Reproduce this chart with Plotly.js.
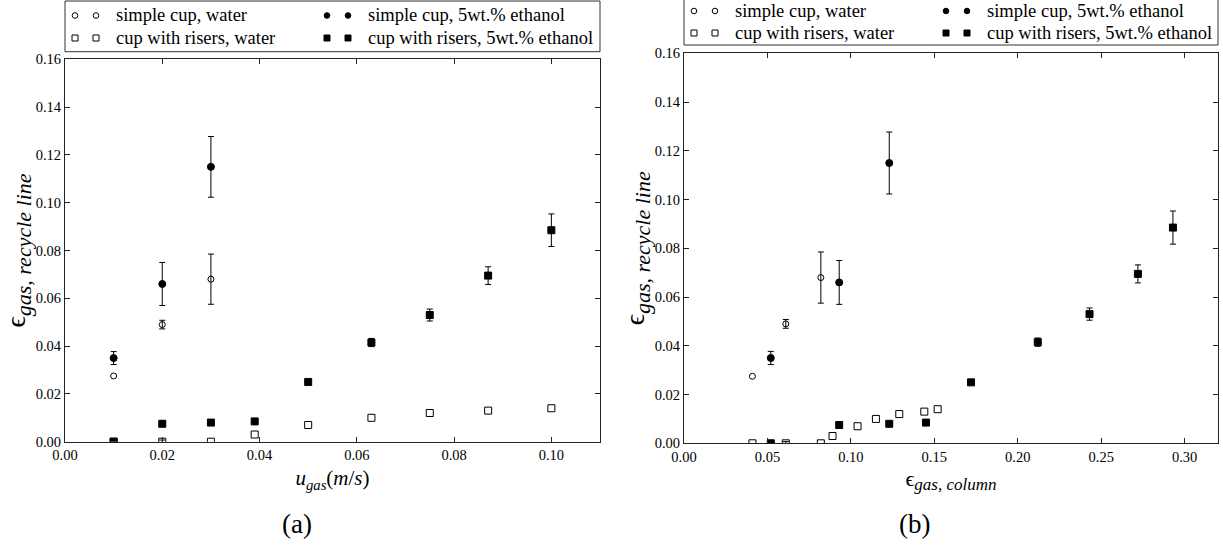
<!DOCTYPE html>
<html>
<head>
<meta charset="utf-8">
<script src="https://cdn.plot.ly/plotly-3.0.1.min.js"></script>
<style>html,body{margin:0;padding:0;background:#fff;}#chart{width:1223px;height:552px;}</style>
</head>
<body>
<div id="chart"></div>
<script>
// ---------------- data ----------------
// superficial gas velocity u_gas (m/s)
const ugasSimple = [0.01, 0.02, 0.03];
const ugasRisers = [0.01, 0.02, 0.03, 0.039, 0.05, 0.063, 0.075, 0.087, 0.10];

// column gas hold-up epsilon_gas,column
const colSimpleWater = [0.041, 0.061, 0.082];
const colSimpleEthanol = [0.052, 0.093, 0.123];
const colRisersWater = [0.041, 0.061, 0.082, 0.089, 0.104, 0.115, 0.129, 0.144, 0.152];
const colRisersEthanol = [0.052, 0.093, 0.123, 0.145, 0.172, 0.212, 0.243, 0.272, 0.293];

// recycle line gas hold-up epsilon_gas,recycle line
const epsSimpleWater = [0.0275, 0.049, 0.068];
const epsSimpleEthanol = [0.035, 0.066, 0.115];
const epsRisersWater = [0.0, 0.0, 0.0, 0.003, 0.007, 0.010, 0.012, 0.013, 0.014];
const epsRisersEthanol = [0.0, 0.0075, 0.008, 0.0085, 0.025, 0.0415, 0.053, 0.0695, 0.0885];

// error bars (0 = none drawn)
const errSimpleWater = [0, 0.0018, 0.0105];
const errSimpleEthanol = [0.0027, 0.009, 0.0127];
const errRisersWater = [0, 0.0007, 0, 0, 0, 0, 0, 0, 0];
const errRisersEthanol = [0, 0, 0, 0, 0, 0.0017, 0.0025, 0.0037, 0.0068];

const seriesNames = ['simple cup, water', 'simple cup, 5wt.% ethanol', 'cup with risers, water', 'cup with risers, 5wt.% ethanol'];

const xTicksA = [0, 0.02, 0.04, 0.06, 0.08, 0.10];
const xTicksB = [0, 0.05, 0.10, 0.15, 0.20, 0.25, 0.30];
const yTicks = [0, 0.02, 0.04, 0.06, 0.08, 0.10, 0.12, 0.14, 0.16];

// ---------------- layout helpers ----------------
const W = 1223, H = 552;
const px = v => v / W;
const py = v => 1 - v / H;
const SERIF = 'Liberation Serif';

const styles = [
  {symbol: 'circle-open', size: 6, shape: 'circle', fill: '#fff'},
  {symbol: 'circle', size: 7, shape: 'circle', fill: '#000'},
  {symbol: 'square-open', size: 7, shape: 'rect', fill: '#fff'},
  {symbol: 'square', size: 7, shape: 'rect', fill: '#000'}
];

function mk(i, x, y, err, xa, ya) {
  const st = styles[i];
  return {
    type: 'scatter', mode: 'markers', name: seriesNames[i],
    x: x, y: y, xaxis: xa, yaxis: ya, showlegend: false, cliponaxis: true,
    marker: {symbol: st.symbol, size: st.size, color: '#000', line: {width: 1, color: '#000'}},
    error_y: {type: 'data', visible: true, array: err.map(v => v > 0 ? v : NaN),
              color: '#000', thickness: 1, width: 3}
  };
}

const data = [
  mk(0, ugasSimple, epsSimpleWater, errSimpleWater, 'x', 'y'),
  mk(1, ugasSimple, epsSimpleEthanol, errSimpleEthanol, 'x', 'y'),
  mk(2, ugasRisers, epsRisersWater, errRisersWater, 'x', 'y'),
  mk(3, ugasRisers, epsRisersEthanol, errRisersEthanol, 'x', 'y'),
  mk(0, colSimpleWater, epsSimpleWater, errSimpleWater, 'x2', 'y2'),
  mk(1, colSimpleEthanol, epsSimpleEthanol, errSimpleEthanol, 'x2', 'y2'),
  mk(2, colRisersWater, epsRisersWater, errRisersWater, 'x2', 'y2'),
  mk(3, colRisersEthanol, epsRisersEthanol, errRisersEthanol, 'x2', 'y2')
];

function axisBase(extra) {
  return Object.assign({
    showgrid: false, zeroline: false, showline: true, mirror: 'allticks',
    linecolor: '#222', linewidth: 1, ticks: 'inside', ticklen: 5, tickwidth: 1, tickcolor: '#222',
    tickfont: {family: SERIF, size: 14.5, color: '#000'}, tickformat: '.2f', tickmode: 'array'
  }, extra);
}

// plot boxes (pixel positions)
const boxA = {l: 65, r: 600, t: 59.3, b: 441.7};
const boxB = {l: 684, r: 1218, t: 53.3, b: 443.3};

const yTitle = 'ϵ<sub><span style="font-size:22px"><i>gas, recycle line</i></span></sub>';

const layout = {
  width: W, height: H, margin: {l: 0, r: 0, t: 0, b: 0},
  paper_bgcolor: '#fff', plot_bgcolor: '#fff', showlegend: false,
  font: {family: SERIF, color: '#000'},
  xaxis: axisBase({domain: [px(boxA.l), px(boxA.r)], range: [0, 0.11], tickvals: xTicksA, anchor: 'y',
    title: {text: '<i>u</i><sub><i>gas</i></sub>(<i>m</i>/<i>s</i>)', font: {family: SERIF, size: 21}, standoff: 8}}),
  yaxis: axisBase({domain: [py(boxA.b), py(boxA.t)], range: [0, 0.16], tickvals: yTicks, anchor: 'x',
    title: {text: yTitle, font: {family: SERIF, size: 28}, standoff: 1}}),
  xaxis2: axisBase({domain: [px(boxB.l), px(boxB.r)], range: [0, 0.32], tickvals: xTicksB, anchor: 'y2',
    title: {text: 'ϵ<sub><span style="font-size:17px"><i>gas, column</i></span></sub>', font: {family: SERIF, size: 22}, standoff: 6}}),
  yaxis2: axisBase({domain: [py(boxB.b), py(boxB.t)], range: [0, 0.16], tickvals: yTicks, anchor: 'x2',
    title: {text: yTitle, font: {family: SERIF, size: 28}, standoff: 1}}),
  shapes: [],
  annotations: []
};

// captions
layout.annotations.push({xref: 'paper', yref: 'paper', x: px(297), y: py(524), text: '(a)', showarrow: false,
  xanchor: 'center', yanchor: 'middle', font: {family: SERIF, size: 27, color: '#000'}});
layout.annotations.push({xref: 'paper', yref: 'paper', x: px(915), y: py(524), text: '(b)', showarrow: false,
  xanchor: 'center', yanchor: 'middle', font: {family: SERIF, size: 27, color: '#000'}});

// legends (two columns, two handle markers per entry, frame spanning the axes width)
function addLegend(box, top, bottom, row1, row2) {
  layout.shapes.push({type: 'rect', xref: 'paper', yref: 'paper', x0: px(box.l), x1: px(box.r),
    y0: py(bottom), y1: py(top), line: {color: '#333', width: 1}, fillcolor: '#fff', layer: 'above'});
  const rows = [row1, row1, row2, row2];
  const colOff = [0, 252, 0, 252];
  seriesNames.forEach((name, i) => {
    const st = styles[i];
    const yc = rows[i];
    const r = st.shape === 'circle' ? 2.8 : 3;
    [10, 31].forEach(g => {
      const xc = box.l + colOff[i] + g;
      layout.shapes.push({type: st.shape, xref: 'paper', yref: 'paper', layer: 'above',
        x0: px(xc - r), x1: px(xc + r), y0: py(yc + r), y1: py(yc - r),
        line: {color: '#000', width: 1}, fillcolor: st.fill});
    });
    layout.annotations.push({xref: 'paper', yref: 'paper', x: px(box.l + colOff[i] + 49), y: py(yc),
      text: name, showarrow: false, xanchor: 'left', yanchor: 'middle',
      font: {family: SERIF, size: 18.5, color: '#000'}});
  });
}
addLegend(boxA, 1, 51.7, 15.5, 38);
addLegend(boxB, -5, 45, 11, 33);

Plotly.newPlot('chart', data, layout, {staticPlot: true, displayModeBar: false});
</script>
</body>
</html>
